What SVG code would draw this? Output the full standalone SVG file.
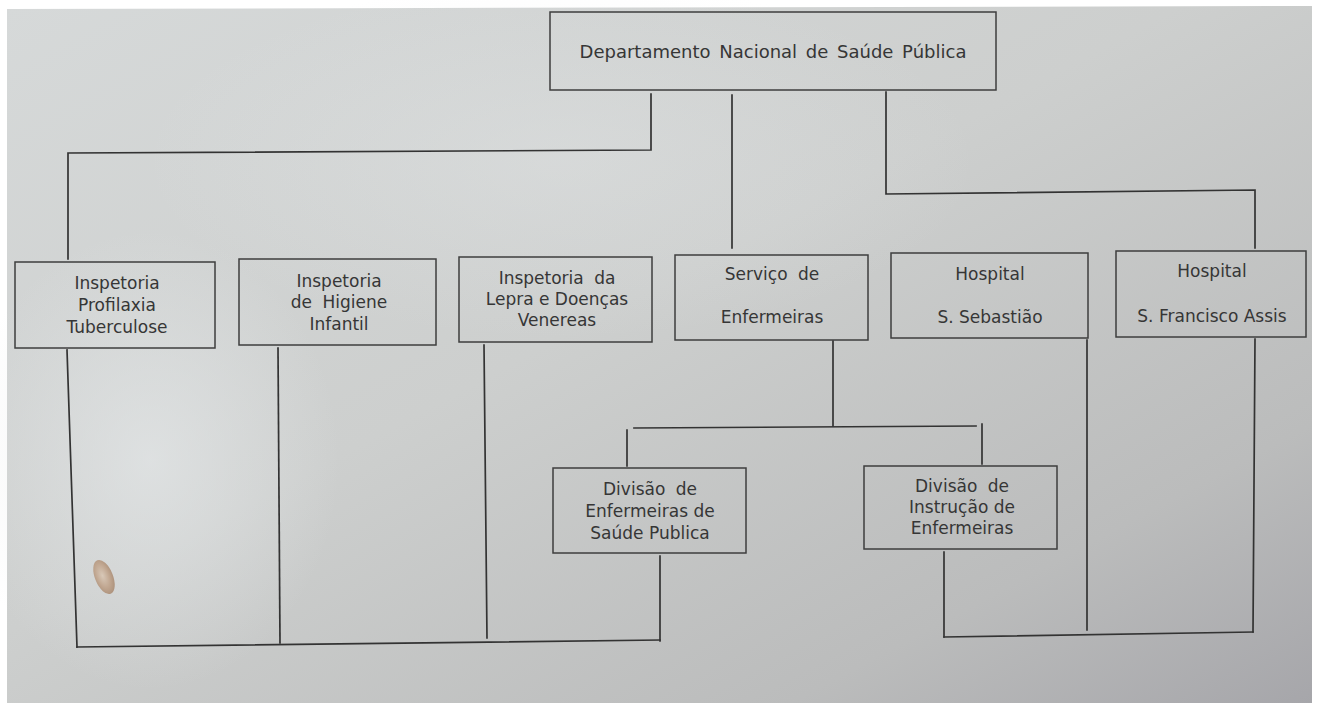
<svg xmlns="http://www.w3.org/2000/svg" width="1319" height="703" viewBox="0 0 1319 703">
  <defs>
    <linearGradient id="paper" x1="0" y1="0" x2="1" y2="1">
      <stop offset="0" stop-color="#d6d9d9"/>
      <stop offset="0.45" stop-color="#cdcfce"/>
      <stop offset="0.8" stop-color="#bbbcbc"/>
      <stop offset="1" stop-color="#a6a6aa"/>
    </linearGradient>
    <radialGradient id="glow" cx="0.5" cy="0.5" r="0.5">
      <stop offset="0" stop-color="#e4e7e8" stop-opacity="0.7"/>
      <stop offset="1" stop-color="#e4e7e8" stop-opacity="0"/>
    </radialGradient>
    <radialGradient id="stain" cx="0.45" cy="0.45" r="0.6">
      <stop offset="0" stop-color="#d8c8b8"/>
      <stop offset="0.6" stop-color="#c0a690"/>
      <stop offset="1" stop-color="#ab907a"/>
    </radialGradient>
    <style>
      .box { fill: none; stroke: #3e3e3e; stroke-width: 1.5; }
      .ln { fill: none; stroke: #333333; stroke-width: 1.7; stroke-linecap: square; }
      .t { font-family: "DejaVu Sans", "Liberation Sans", sans-serif; font-size: 17px; fill: #363636; text-anchor: middle; }
      .title { font-size: 18px; word-spacing: 3px; }
      .ws { word-spacing: 5px; }
    </style>
  </defs>

  <rect x="0" y="0" width="1319" height="703" fill="#ffffff"/>
  <polygon points="7,9 1312,6 1312,703 7,703" fill="url(#paper)"/>
  <ellipse cx="150" cy="460" rx="190" ry="230" fill="url(#glow)"/>
  <ellipse cx="560" cy="160" rx="420" ry="180" fill="url(#glow)" opacity="0.5"/>
  <ellipse cx="104" cy="577" rx="9" ry="18" transform="rotate(-22 104 577)" fill="url(#stain)"/>

  <g id="connectors">
    <polyline class="ln" points="651,94 651,150 68,153 68,259"/>
    <line class="ln" x1="732" y1="95" x2="732" y2="248"/>
    <polyline class="ln" points="886,92 886,194 1255,190 1255,248"/>
    <line class="ln" x1="833" y1="341" x2="833" y2="426"/>
    <line class="ln" x1="634" y1="428" x2="976" y2="426"/>
    <line class="ln" x1="627" y1="430" x2="627" y2="466"/>
    <line class="ln" x1="982" y1="424" x2="982" y2="464"/>
    <line class="ln" x1="67" y1="350" x2="77" y2="647"/>
    <line class="ln" x1="278" y1="348" x2="280" y2="643"/>
    <line class="ln" x1="484" y1="345" x2="487" y2="638"/>
    <line class="ln" x1="660" y1="556" x2="660" y2="641"/>
    <line class="ln" x1="77" y1="647" x2="660" y2="640"/>
    <line class="ln" x1="944" y1="552" x2="944" y2="637"/>
    <line class="ln" x1="944" y1="637" x2="1253" y2="632"/>
    <line class="ln" x1="1087" y1="340" x2="1087" y2="630"/>
    <line class="ln" x1="1255" y1="339" x2="1253" y2="632"/>
  </g>

  <g id="dnsp">
    <rect class="box" x="550" y="12" width="446" height="78"/>
    <text class="t title" x="773" y="58">Departamento Nacional de Saúde Pública</text>
  </g>

  <g id="insp-tuberculose">
    <rect class="box" x="15" y="262" width="200" height="86"/>
    <text class="t" x="117" y="289">Inspetoria</text>
    <text class="t" x="117" y="311">Profilaxia</text>
    <text class="t" x="117" y="333">Tuberculose</text>
  </g>

  <g id="insp-higiene">
    <rect class="box" x="239" y="259" width="197" height="86"/>
    <text class="t" x="339" y="287">Inspetoria</text>
    <text class="t ws" x="339" y="308">de Higiene</text>
    <text class="t" x="339" y="330">Infantil</text>
  </g>

  <g id="insp-lepra">
    <rect class="box" x="459" y="257" width="193" height="85"/>
    <text class="t ws" x="557" y="284">Inspetoria da</text>
    <text class="t" x="557" y="305">Lepra e Doenças</text>
    <text class="t" x="557" y="326">Venereas</text>
  </g>

  <g id="servico-enfermeiras">
    <rect class="box" x="675" y="255" width="193" height="85"/>
    <text class="t ws" x="772" y="280">Serviço de</text>
    <text class="t" x="772" y="323">Enfermeiras</text>
  </g>

  <g id="hospital-sebastiao">
    <rect class="box" x="891" y="253" width="197" height="85"/>
    <text class="t" x="990" y="280">Hospital</text>
    <text class="t" x="990" y="323">S. Sebastião</text>
  </g>

  <g id="hospital-francisco">
    <rect class="box" x="1116" y="251" width="190" height="86"/>
    <text class="t" x="1212" y="277">Hospital</text>
    <text class="t" x="1212" y="322">S. Francisco Assis</text>
  </g>

  <g id="div-saude-publica">
    <rect class="box" x="553" y="468" width="193" height="85"/>
    <text class="t ws" x="650" y="495">Divisão de</text>
    <text class="t" x="650" y="517">Enfermeiras de</text>
    <text class="t" x="650" y="539">Saúde Publica</text>
  </g>

  <g id="div-instrucao">
    <rect class="box" x="864" y="466" width="193" height="83"/>
    <text class="t ws" x="962" y="492">Divisão de</text>
    <text class="t" x="962" y="513">Instrução de</text>
    <text class="t" x="962" y="534">Enfermeiras</text>
  </g>
</svg>
